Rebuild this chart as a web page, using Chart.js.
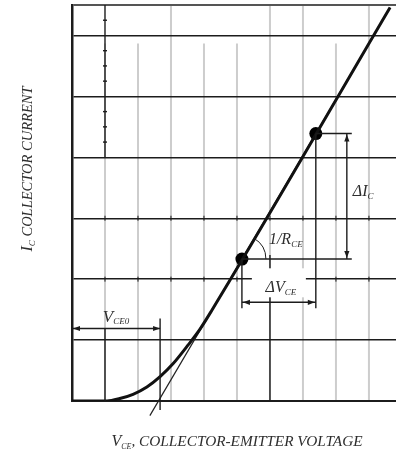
<!DOCTYPE html>
<html>
<head>
<meta charset="utf-8">
<script src="https://cdn.jsdelivr.net/npm/chart.js@4.4.0/dist/chart.umd.min.js"></script>
<style>
  html, body { margin: 0; padding: 0; background: #fff; }
  #wrap { width: 396px; height: 455px; }
</style>
</head>
<body>
<div id="wrap"><canvas id="chart"></canvas></div>
<script>
// output characteristic, values in grid divisions
const curveV = [0, 1.06, 1.45, 1.85, 2.27, 2.67, 3.06, 3.52, 3.88, 4.24, 9.64];
const curveI = [0, 0, 0.04, 0.11, 0.23, 0.40, 0.61, 0.92, 1.18, 1.49, 6.46];
const tangentV = [2.36, 9.64];
const tangentI = [-0.24, 6.46];
const pointV = [5.15, 7.39];
const pointI = [2.33, 4.39];

// dimension marks
const vce0 = 2.67;        // V_CE0 intercept
const vce0Level = 1.19;   // height of the V_CE0 arrow
const dvLevel = 1.62;     // height of the dV_CE arrow
const diV = 8.33;         // where the dI_C arrow stands
const dimEnd = 8.48;      // end of the extension lines
const rceV = 6;           // the 1/R_CE marker line

const xMax = 9.82, yMax = 6.5;
const tallGrid = [3, 6, 7, 9];   // gray lines that reach the top border

const ink = '#1c1c1c';
const textInk = '#2e2e2e';
const serif = '"Liberation Serif", "DejaVu Serif", serif';

function rich(ctx, parts, x, y, align) {
  let w = 0;
  parts.forEach(p => { ctx.font = 'italic ' + p[1] + 'px ' + serif; w += ctx.measureText(p[0]).width; });
  let cx = align === 'center' ? x - w / 2 : x;
  parts.forEach(p => {
    ctx.font = 'italic ' + p[1] + 'px ' + serif;
    ctx.fillText(p[0], cx, y + (p[2] || 0));
    cx += ctx.measureText(p[0]).width;
  });
}

function arrowHead(ctx, x, y, dir) {
  const L = 7, H = 2.6;
  ctx.beginPath();
  if (dir === 'left')  { ctx.moveTo(x, y); ctx.lineTo(x + L, y - H); ctx.lineTo(x + L, y + H); }
  if (dir === 'right') { ctx.moveTo(x, y); ctx.lineTo(x - L, y - H); ctx.lineTo(x - L, y + H); }
  if (dir === 'up')    { ctx.moveTo(x, y); ctx.lineTo(x - H, y + L); ctx.lineTo(x + H, y + L); }
  if (dir === 'down')  { ctx.moveTo(x, y); ctx.lineTo(x - H, y - L); ctx.lineTo(x + H, y - L); }
  ctx.closePath();
  ctx.fill();
}

const grayGrid = {
  id: 'grayGrid',
  beforeDraw(chart) {
    const ctx = chart.ctx, xs = chart.scales.x, ys = chart.scales.y;
    ctx.save();
    ctx.strokeStyle = '#cdcdcd';
    ctx.lineWidth = 2;
    for (let v = 1; v < xMax; v++) {
      const x = xs.getPixelForValue(v);
      const top = tallGrid.includes(v) ? ys.getPixelForValue(yMax) : ys.getPixelForValue(5.87);
      ctx.beginPath(); ctx.moveTo(x, top); ctx.lineTo(x, ys.getPixelForValue(0)); ctx.stroke();
    }
    ctx.restore();
  }
};

const notes = {
  id: 'notes',
  afterDatasetsDraw(chart) {
    const ctx = chart.ctx;
    const X = v => chart.scales.x.getPixelForValue(v);
    const Y = v => chart.scales.y.getPixelForValue(v);
    const seg = (x1, y1, x2, y2) => { ctx.beginPath(); ctx.moveTo(x1, y1); ctx.lineTo(x2, y2); ctx.stroke(); };
    ctx.save();
    ctx.strokeStyle = ink;
    ctx.fillStyle = ink;
    ctx.lineWidth = 1.4;

    // black marker line at V = 1, with its small ticks
    seg(X(1), Y(yMax), X(1), Y(4));
    for (let i = 4.25; i < yMax; i += 0.25) {
      if (i % 1 !== 0) seg(X(1) - 2, Y(i), X(1) + 2, Y(i));
    }
    seg(X(1), Y(vce0Level), X(1), Y(0));

    // small ticks on two grid lines
    ctx.lineWidth = 1;
    [2, 3].forEach(i => {
      for (let v = 1; v < xMax; v++) seg(X(v), Y(i) - 2.5, X(v), Y(i) + 2.5);
    });
    ctx.lineWidth = 1.4;

    // V_CE0 span
    seg(X(vce0), Y(vce0Level) - 10, X(vce0), Y(0) + 9);
    seg(X(0), Y(vce0Level), X(vce0), Y(vce0Level));
    arrowHead(ctx, X(0) + 1, Y(vce0Level), 'left');
    arrowHead(ctx, X(vce0), Y(vce0Level), 'right');

    const [v1, v2] = pointV, [i1, i2] = pointI;
    // extension lines from the two points
    seg(X(v1), Y(i1), X(dimEnd), Y(i1));
    seg(X(v2), Y(i2), X(dimEnd), Y(i2));
    seg(X(v1), Y(i1), X(v1), Y(dvLevel) + 6);
    seg(X(v2), Y(i2), X(v2), Y(dvLevel) + 6);
    seg(X(rceV), Y(i1) - 4, X(rceV), Y(0));

    // dV_CE arrow
    seg(X(v1), Y(dvLevel), X(v2), Y(dvLevel));
    arrowHead(ctx, X(v1) + 1, Y(dvLevel), 'left');
    arrowHead(ctx, X(v2) - 1, Y(dvLevel), 'right');

    // dI_C arrow
    seg(X(diV), Y(i2), X(diV), Y(i1));
    arrowHead(ctx, X(diV), Y(i2) + 1, 'up');
    arrowHead(ctx, X(diV), Y(i1) - 1, 'down');

    // angle arc at the lower point
    const ang = Math.atan2(Y(i2) - Y(i1), X(v2) - X(v1));
    ctx.beginPath();
    ctx.arc(X(v1), Y(i1), 24, ang, 0);
    ctx.lineWidth = 1;
    ctx.stroke();

    // labels
    ctx.fillStyle = '#fff';
    const mid = (X(v1) + X(v2)) / 2;
    ctx.fillRect(mid - 27, Y(dvLevel) - 34, 54, 29);

    ctx.fillStyle = textInk;
    ctx.textBaseline = 'alphabetic';
    rich(ctx, [['\u0394V', 16], ['CE', 9, 3]], mid + 2, Y(dvLevel) - 10, 'center');
    rich(ctx, [['1/R', 16], ['CE', 9, 3]], X(v1) + 27, Y(i1) - 15, 'left');
    rich(ctx, [['\u0394I', 16], ['C', 9, 3]], X(diV) + 6, (Y(i1) + Y(i2)) / 2, 'left');
    rich(ctx, [['V', 17], ['CE0', 9, 2]], (X(0) + X(vce0)) / 2, Y(vce0Level) - 7, 'center');

    // axis titles
    rich(ctx, [['V', 16], ['CE', 8, 3], [', COLLECTOR-EMITTER VOLTAGE', 15.3]], 237, 446, 'center');
    ctx.translate(32, 169);
    ctx.rotate(-Math.PI / 2);
    rich(ctx, [['I', 16], ['C', 9, 3], [' COLLECTOR CURRENT', 14.5]], 0, 0, 'center');
    ctx.restore();
  }
};

new Chart(document.getElementById('chart'), {
  type: 'scatter',
  data: {
    datasets: [
      {
        data: curveV.map((v, k) => ({ x: v, y: curveI[k] })),
        showLine: true,
        cubicInterpolationMode: 'monotone',
        borderColor: '#111',
        borderWidth: 3,
        pointRadius: 0
      },
      {
        data: tangentV.map((v, k) => ({ x: v, y: tangentI[k] })),
        showLine: true,
        borderColor: '#222',
        borderWidth: 1.2,
        pointRadius: 0,
        clip: false
      },
      {
        data: pointV.map((v, k) => ({ x: v, y: pointI[k] })),
        showLine: false,
        pointRadius: 6.5,
        pointBackgroundColor: '#000',
        pointBorderWidth: 0
      }
    ]
  },
  options: {
    responsive: true,
    maintainAspectRatio: false,
    animation: false,
    events: [],
    layout: { autoPadding: false, padding: { left: 72, top: 5, right: 0, bottom: 54 } },
    plugins: { legend: { display: false }, tooltip: { enabled: false } },
    scales: {
      x: {
        type: 'linear', min: 0, max: xMax,
        ticks: { display: false, stepSize: 1 },
        grid: { display: false, drawTicks: false },
        border: { display: true, color: ink, width: 2 }
      },
      y: {
        type: 'linear', min: 0, max: yMax,
        ticks: { display: false, stepSize: 1 },
        grid: {
          drawTicks: false,
          color: c => c.tick && c.tick.value === yMax ? '#555' : ink,
          lineWidth: c => c.tick && c.tick.value === yMax ? 2 : 1.4
        },
        border: { display: true, color: ink, width: 2.5 }
      }
    }
  },
  plugins: [grayGrid, notes]
});
</script>
</body>
</html>
